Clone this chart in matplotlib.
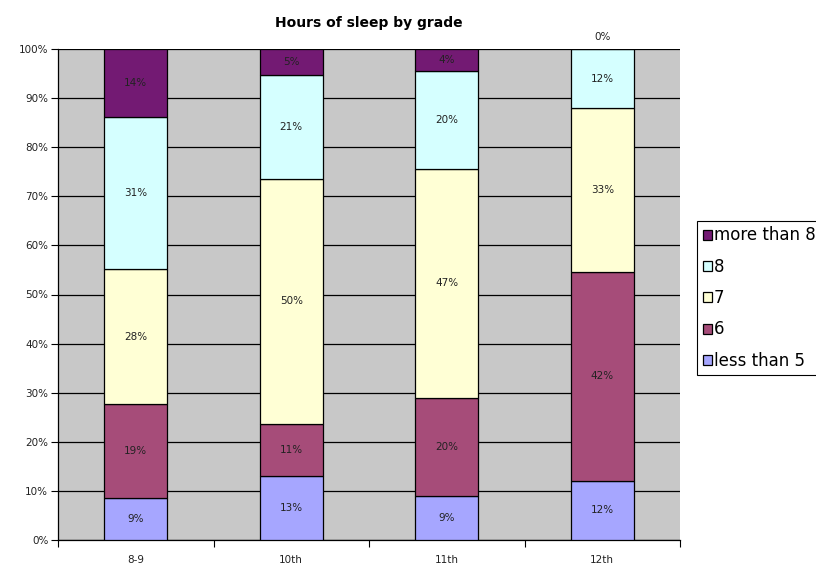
import matplotlib.pyplot as plt
import numpy as np

grades = ['8-9', '10th', '11th', '12th']
series = ['less than 5', '6', '7', '8', 'more than 8']
less5 = [8.6, 13.1, 8.9, 12.1]
six = [19.0, 10.6, 20.0, 42.4]
seven = [27.6, 49.9, 46.7, 33.3]
eight = [31.0, 21.1, 20.0, 12.1]
more8 = [13.8, 5.3, 4.4, 0.0]
colors = ['#A6A6FF', '#A64C79', '#FFFFD5', '#D5FFFF', '#731A73']

data = np.array([less5, six, seven, eight, more8])
pct = data / data.sum(axis=0) * 100

fig = plt.figure(figsize=(8.16, 5.66), dpi=100)
ax = fig.add_axes([58/816, 1-540/566, 622/816, 491/566])
ax.set_facecolor('#C8C8C8')

x = np.arange(len(grades))
bottom = np.zeros(len(grades))
handles = []
for i, name in enumerate(series):
    b = ax.bar(x, pct[i], 0.405, bottom=bottom, color=colors[i],
               edgecolor='black', linewidth=0.9, label=name, zorder=3)
    handles.append(b)
    for j in range(len(grades)):
        lab = '%d%%' % int(pct[i, j] + 0.5)
        if pct[i, j] > 0:
            ax.text(x[j], bottom[j] + pct[i, j]/2, lab, ha='center', va='center',
                    fontsize=7.5, color='#222222', zorder=4)
        else:
            # empty segment: label sits above the column
            ax.annotate(lab, (x[j], bottom[j]), xytext=(0, 9), textcoords='offset points',
                        ha='center', va='center', fontsize=7.5, color='#222222',
                        annotation_clip=False)
    bottom += pct[i]

ax.set_xlim(-0.5, 3.5)
ax.set_ylim(0, 100)
ax.set_yticks(range(0, 101, 10))
ax.set_yticklabels(['%d%%' % v for v in range(0, 101, 10)], fontsize=7.5, color='#222222')
ax.yaxis.grid(True, color='black', linewidth=0.9, zorder=1)
ax.set_axisbelow(True)
ax.set_xticks(x)
ax.set_xticklabels(grades, fontsize=7.5, color='#222222')
ax.tick_params(axis='x', which='major', length=0, pad=11)
ax.set_xticks([-0.5, 0.5, 1.5, 2.5, 3.5], minor=True)
ax.tick_params(axis='x', which='minor', length=5, direction='out', width=0.8)
ax.tick_params(axis='y', length=5, direction='out', width=0.8, pad=2)
for s in ['top', 'right']:
    ax.spines[s].set_visible(False)
for s in ['left', 'bottom']:
    ax.spines[s].set_color('black')
    ax.spines[s].set_linewidth(0.9)

ax.set_title('Hours of sleep by grade', fontsize=10, fontweight='bold', pad=16)

leg = fig.legend(handles[::-1], series[::-1], loc='upper left',
                 bbox_to_anchor=(697/816, 1-221/566), fontsize=12,
                 fancybox=False, edgecolor='black', framealpha=1,
                 handlelength=0.55, handleheight=0.55, handletextpad=0.12,
                 labelspacing=0.8, borderpad=0.33, borderaxespad=0)
leg.get_frame().set_linewidth(0.8)

fig.savefig('out.png', dpi=100)
